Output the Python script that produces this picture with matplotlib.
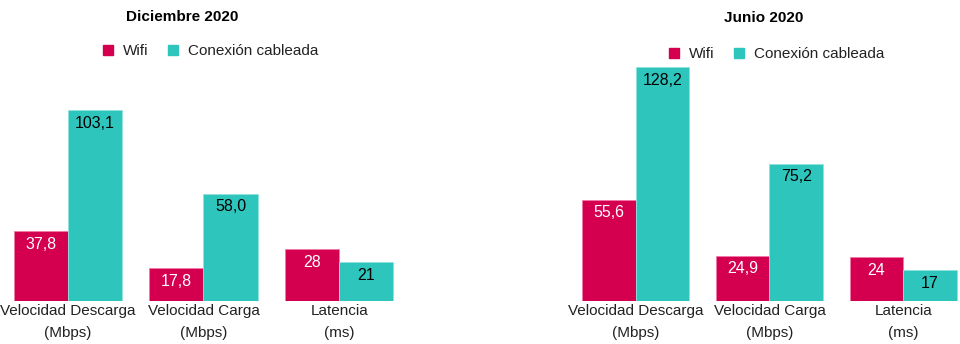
import matplotlib
matplotlib.use("Agg")
import matplotlib.pyplot as plt
from matplotlib.lines import Line2D
import numpy as np

plt.rcParams["font.family"] = ["Liberation Sans", "DejaVu Sans"]

categories = ["Velocidad Descarga\n(Mbps)", "Velocidad Carga\n(Mbps)", "Latencia\n(ms)"]
series_names = ["Wifi", "Conexión cableada"]

dic_titulo = "Diciembre 2020"
dic_wifi = [37.8, 17.8, 28]
dic_cable = [103.1, 58.0, 21]
dic_labels_wifi = ["37,8", "17,8", "28"]
dic_labels_cable = ["103,1", "58,0", "21"]

jun_titulo = "Junio 2020"
jun_wifi = [55.6, 24.9, 24]
jun_cable = [128.2, 75.2, 17]
jun_labels_wifi = ["55,6", "24,9", "24"]
jun_labels_cable = ["128,2", "75,2", "17"]

COLOR_WIFI = "#d4004f"
COLOR_CABLE = "#2ec5bd"
COLOR_TEXT = "#222222"
W = 0.4


def draw_panel(ax, wifi, cable, lab_wifi, lab_cable, ymax):
    x = np.arange(len(categories))
    ax.bar(x - W / 2, wifi, W, color=COLOR_WIFI, edgecolor="#f07aa5", linewidth=0.6)
    ax.bar(x + W / 2, cable, W, color=COLOR_CABLE, edgecolor="#8fe3de", linewidth=0.6)
    for xi, v, s in zip(x, wifi, lab_wifi):
        ax.annotate(s, (xi - W / 2, v), xytext=(0, -4), textcoords="offset points",
                    ha="center", va="top", color="white", fontsize=11.5)
    for xi, v, s in zip(x, cable, lab_cable):
        ax.annotate(s, (xi + W / 2, v), xytext=(0, -4), textcoords="offset points",
                    ha="center", va="top", color="black", fontsize=11.5)
    ax.set_xlim(-0.5, 2.5)
    ax.set_ylim(0, ymax)
    ax.set_xticks(x)
    ax.set_xticklabels(categories, fontsize=11, color=COLOR_TEXT, linespacing=1.75)
    ax.tick_params(axis="x", length=0, pad=2)
    ax.set_yticks([])
    for sp in ax.spines.values():
        sp.set_visible(False)


fig = plt.figure(figsize=(9.6, 3.44), dpi=100)

ax1 = fig.add_axes([0 / 960, 43 / 344, 407 / 960, 241 / 344])
draw_panel(ax1, dic_wifi, dic_cable, dic_labels_wifi, dic_labels_cable, 241 / 1.853)

ax2 = fig.add_axes([569 / 960, 43 / 344, 401 / 960, 241 / 344])
draw_panel(ax2, jun_wifi, jun_cable, jun_labels_wifi, jun_labels_cable, 241 / 1.825)

fig.text(182 / 960, 1 - 17 / 344, dic_titulo, ha="center", va="center",
         fontsize=11, fontweight="bold", color="black")
fig.text(764 / 960, 1 - 18 / 344, jun_titulo, ha="center", va="center",
         fontsize=11, fontweight="bold", color="black")

handles = [Line2D([], [], marker="s", linestyle="none", markersize=7, color=COLOR_WIFI),
           Line2D([], [], marker="s", linestyle="none", markersize=7, color=COLOR_CABLE)]
for cx, cy in [(210, 51), (776, 54)]:
    fig.legend(handles, series_names, loc="center", bbox_to_anchor=(cx / 960, 1 - cy / 344),
               ncol=2, frameon=False, fontsize=11, handlelength=0.8, handletextpad=0.6,
               columnspacing=1.2, labelcolor=COLOR_TEXT)

fig.savefig("out.png", dpi=100)
